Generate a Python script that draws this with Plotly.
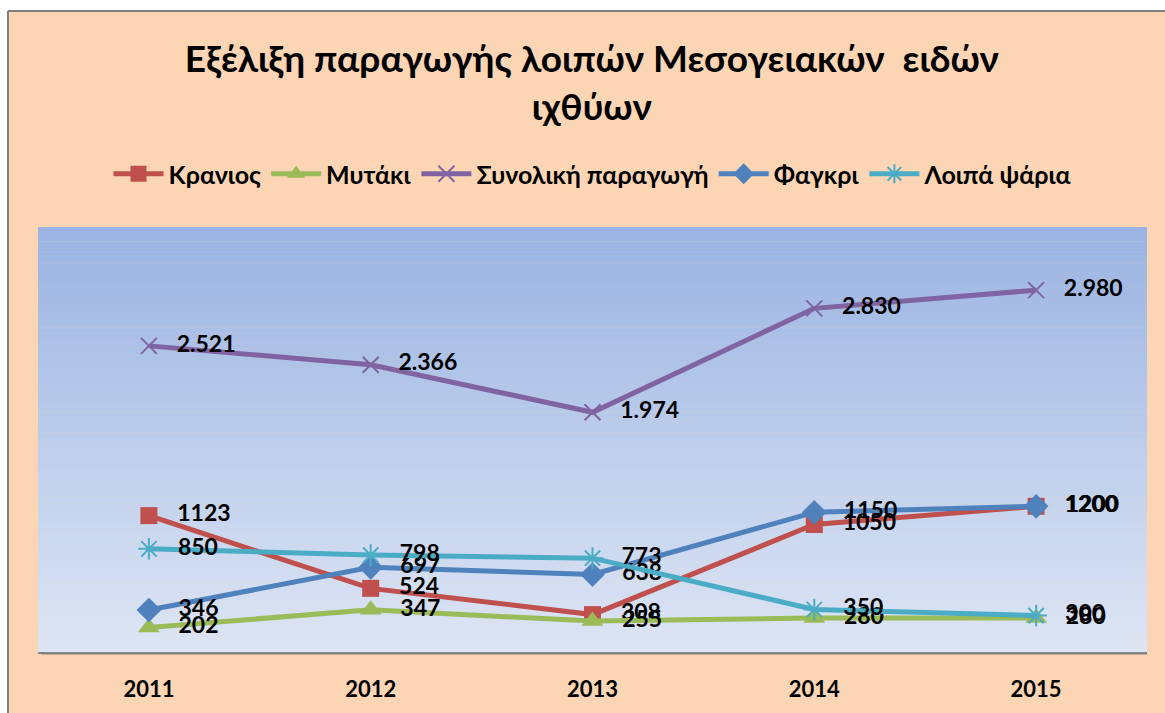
import plotly.graph_objects as go

years = ["2011", "2012", "2013", "2014", "2015"]
kranios = [1123, 524, 308, 1050, 1200]
mytaki = [202, 347, 255, 280, 280]
synoliki = [2521, 2366, 1974, 2830, 2980]
fagkri = [346, 697, 638, 1150, 1200]
loipa = [850, 798, 773, 350, 300]

series_names = ["Κρανιος", "Μυτάκι", "Συνολική παραγωγή", "Φαγκρι", "Λοιπά ψάρια"]
title_text = "Εξέλιξη παραγωγής λοιπών Μεσογειακών  ειδών<br>ιχθύων"

W, H = 1165, 713
L, R, T, B = 38, 18, 227, 61
PW, PH = W - L - R, H - T - B

FONT = "Lato"


def fmt_plain(v):
    return f"   {v}"


def fmt_dot(v):
    return "   " + f"{v:,}".replace(",", ".")


styles = [
    dict(color="#C0504D", symbol="square", size=17, fmt=fmt_plain),
    dict(color="#9BBB59", symbol="triangle-up", size=19, fmt=fmt_plain),
    dict(color="#8064A2", symbol="x-thin", size=16, fmt=fmt_dot),
    dict(color="#4F81BD", symbol="diamond", size=19, fmt=fmt_plain),
    dict(color="#4BACC6", symbol="asterisk", size=18, fmt=fmt_plain),
]
data = [kranios, mytaki, synoliki, fagkri, loipa]

fig = go.Figure()
for name, vals, st in zip(series_names, data, styles):
    open_sym = st["symbol"] in ("x-thin", "asterisk")
    marker = dict(symbol=st["symbol"], size=st["size"], color=st["color"])
    if open_sym:
        marker["line"] = dict(color=st["color"], width=2)
    else:
        marker["line"] = dict(width=0)
    fig.add_trace(go.Scatter(
        x=years, y=vals, name=name, mode="lines+markers+text",
        line=dict(color=st["color"], width=5),
        marker=marker,
        text=[st["fmt"](v) for v in vals],
        textposition="middle right",
        textfont=dict(family=FONT, size=23, color="black", weight="bold"),
        cliponaxis=False,
    ))

# background shapes
shapes = []
px2x = lambda p: (p - L) / PW
px2y = lambda p: 1 - (p - T) / PH
# peach chart area
shapes.append(dict(type="rect", xref="paper", yref="paper", layer="below",
                   x0=px2x(8), x1=px2x(W + 5), y0=px2y(H + 5), y1=px2y(11),
                   fillcolor="#FCD5B5", line=dict(width=0)))
# gradient plot area
top_c = (155, 180, 226)
bot_c = (221, 229, 244)
N = 60
for i in range(N):
    t = i / (N - 1)
    c = tuple(round(top_c[k] + (bot_c[k] - top_c[k]) * t) for k in range(3))
    shapes.append(dict(type="rect", xref="x domain", yref="y domain", layer="below",
                       x0=0, x1=1, y0=1 - (i + 1) / N - 0.001, y1=1 - i / N,
                       fillcolor="rgb(%d,%d,%d)" % c, line=dict(width=0)))
# border lines
shapes.append(dict(type="line", xref="paper", yref="paper", layer="below",
                   x0=px2x(8), x1=px2x(W + 5), y0=px2y(11), y1=px2y(11),
                   line=dict(color="#7F7F7F", width=2)))
shapes.append(dict(type="line", xref="paper", yref="paper", layer="below",
                   x0=px2x(8), x1=px2x(8), y0=px2y(11), y1=px2y(H + 5),
                   line=dict(color="#7F7F7F", width=2)))
# axis shadow
shapes.append(dict(type="line", xref="paper", yref="paper", layer="above",
                   x0=0.003, x1=1, y0=px2y(T + PH + 2), y1=px2y(T + PH + 2),
                   line=dict(color="rgba(120,120,120,0.45)", width=2)))

fig.update_layout(
    width=W, height=H,
    margin=dict(l=L, r=R, t=T, b=B, pad=0, autoexpand=False),
    paper_bgcolor="white",
    plot_bgcolor="rgba(0,0,0,0)",
    shapes=shapes,
    title=dict(text=title_text, x=0.508, xanchor="center", y=1 - 72 / H, yanchor="middle",
               font=dict(family=FONT, size=37, color="black", weight="bold")),
    legend=dict(orientation="h", x=0.5, xanchor="center", y=1 + (T - 174) / PH, yanchor="middle",
                font=dict(family=FONT, size=25, color="black", weight="bold"),
                bgcolor="rgba(0,0,0,0)", itemwidth=50, tracegroupgap=0),
    showlegend=True,
    xaxis=dict(range=[-0.5, 4.5], showgrid=False, zeroline=False, showline=True,
               linecolor="#878787", linewidth=2, ticks="", automargin=False,
               tickfont=dict(family=FONT, size=22, color="black", weight="bold"),
               ticklabelstandoff=17, fixedrange=True),
    yaxis=dict(range=[0, 3500], showgrid=False, zeroline=False, showticklabels=False,
               showline=False, fixedrange=True, automargin=False),
)

fig.write_html("out.html", config={"displayModeBar": False},
               post_script="document.body.style.margin='0px';document.body.style.overflow='hidden';")
